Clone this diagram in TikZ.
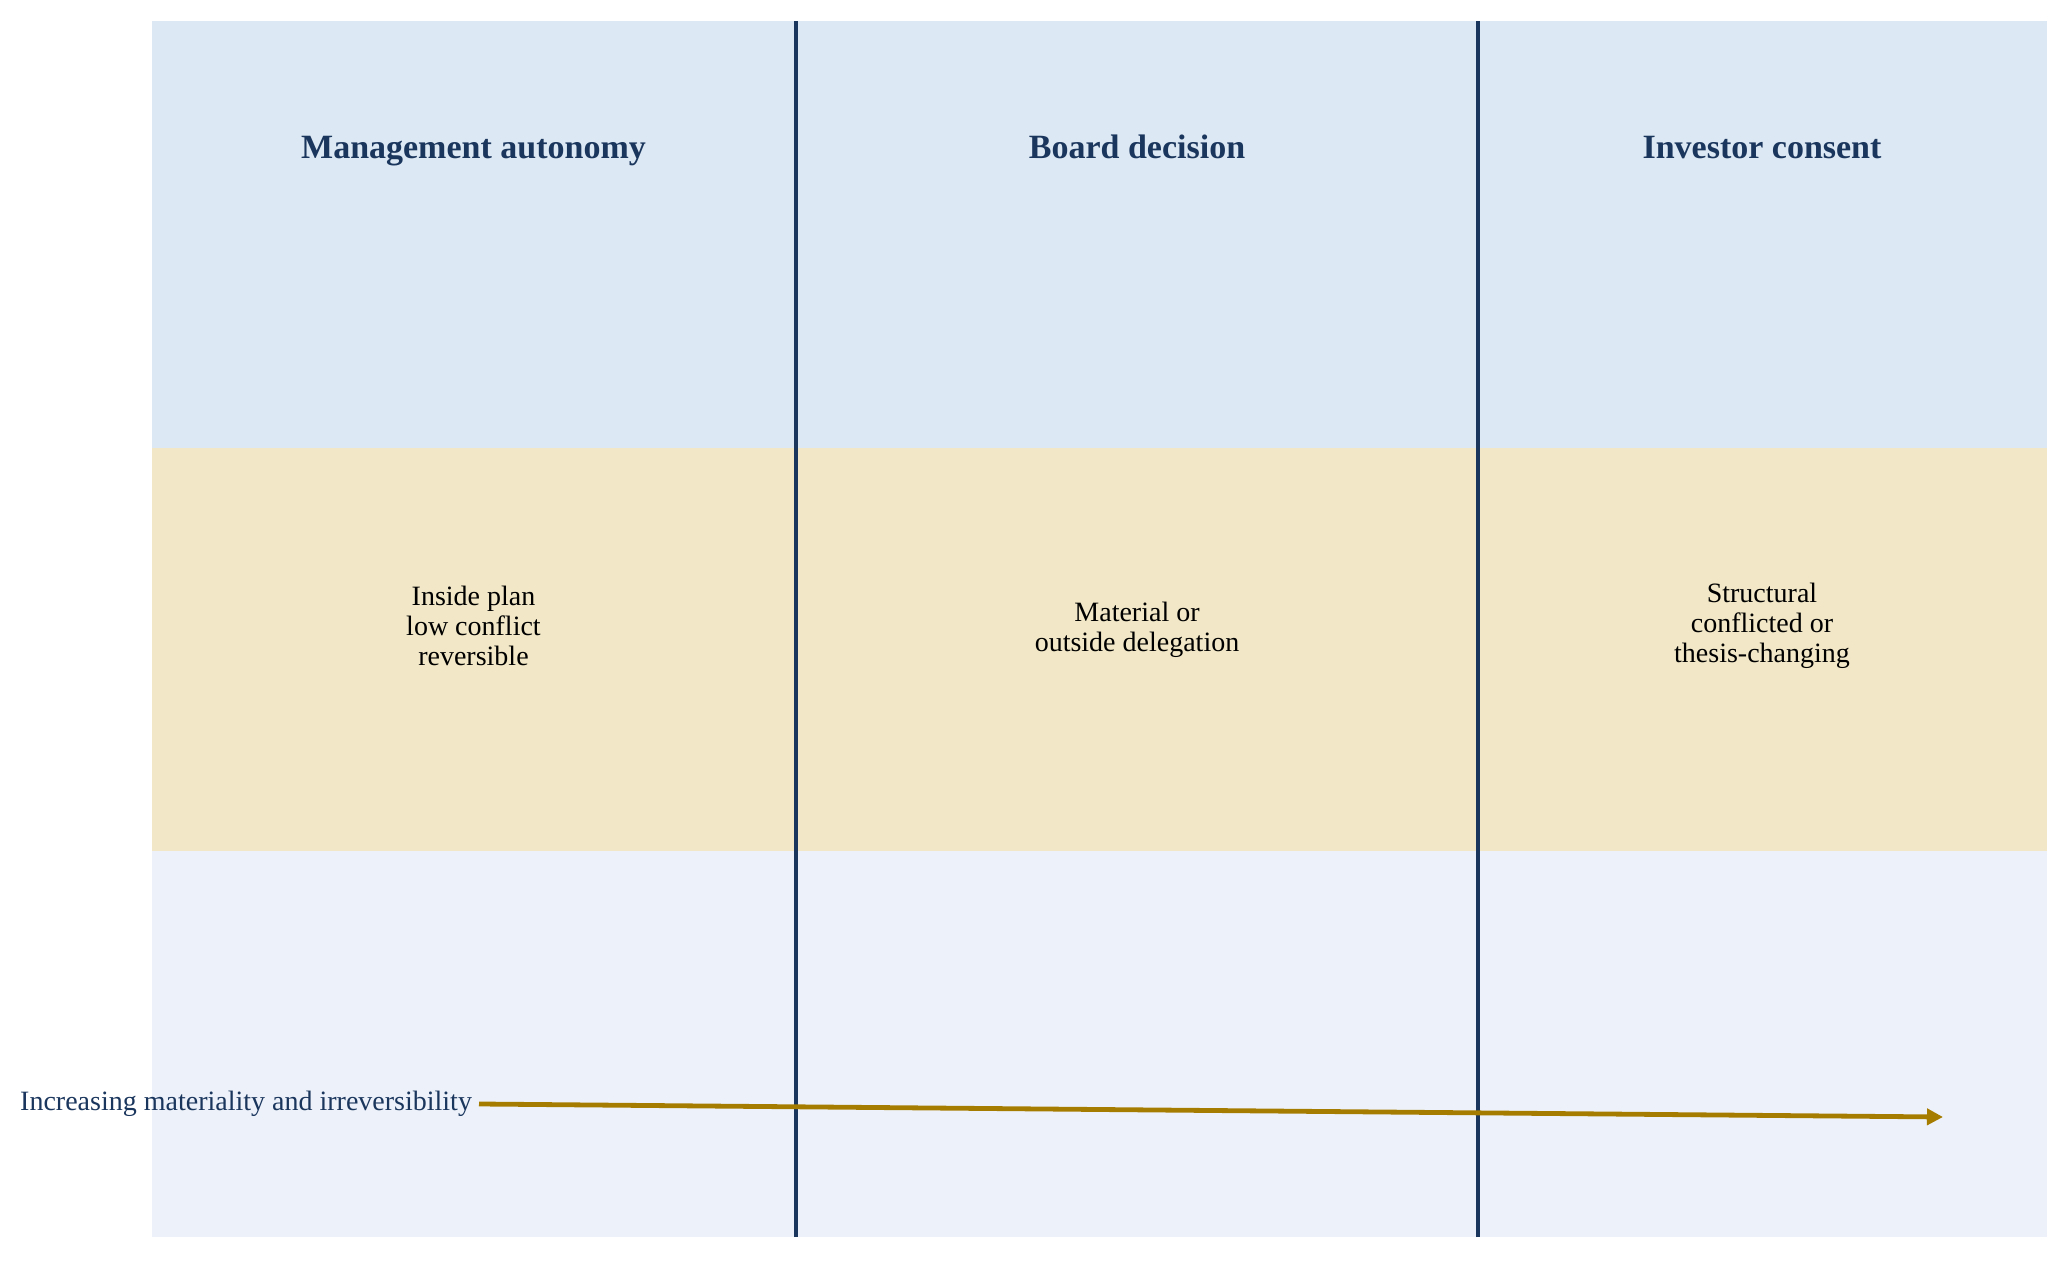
\documentclass[tikz,border=0pt]{standalone}
\usepackage{fontspec}
\setmainfont{Liberation Serif}
\usepackage{xcolor}
\usepackage{tikz}
\usetikzlibrary{arrows.meta}
\definecolor{govnavy}{RGB}{27,54,93}
\definecolor{govgold}{RGB}{166,124,0}
\definecolor{govblue}{RGB}{220,232,243}
\definecolor{govsand}{RGB}{242,232,199}
\definecolor{govpale}{RGB}{237,242,250}

\begin{document}
\begin{tikzpicture}[x=0.5pt,y=0.5pt,
    tierhead/.style={anchor=base,text=govnavy,font=\fontsize{17}{20}\selectfont\bfseries},
    tierbody/.style={align=center,font=\fontsize{14}{15}\selectfont},
    divider/.style={draw=govnavy,line width=2.2pt},
    scalearrow/.style={draw=govgold,line width=2.4pt,-{Triangle[length=8pt,width=8pt]}}]
        \useasboundingbox (0,0) rectangle (2068,1260);
        % bands
        \fill[govblue] (152,812) rectangle (2047,1239);
        \fill[govsand] (152,409) rectangle (2047,812);
        \fill[govpale] (152,23) rectangle (2047,409);
        % dividers
        \draw[divider] (796,23) -- (796,1239);
        \draw[divider] (1478,23) -- (1478,1239);
        % management
        \node[tierhead] (mgmt) at (473.5,1101) {Management autonomy};
        \node[tierbody] (mgmtrule) at (473.5,634) {Inside plan\\low conflict\\reversible};
        % board
        \node[tierhead] (board) at (1137,1101) {Board decision};
        \node[tierbody] (boardrule) at (1137,630) {Material or\\outside delegation};
        % investor
        \node[tierhead] (investor) at (1762,1101) {Investor consent};
        \node[tierbody] (investorrule) at (1762,634) {Structural\\conflicted or\\thesis-changing};
        % scale
        \node[anchor=east,text=govnavy,font=\fontsize{14}{15}\selectfont] (scale) at (479,156) {Increasing materiality and irreversibility};
        \coordinate (scaleend) at (1943,143);
        \draw[scalearrow] (scale.east) -- (scaleend);
    \end{tikzpicture}
\end{document}
